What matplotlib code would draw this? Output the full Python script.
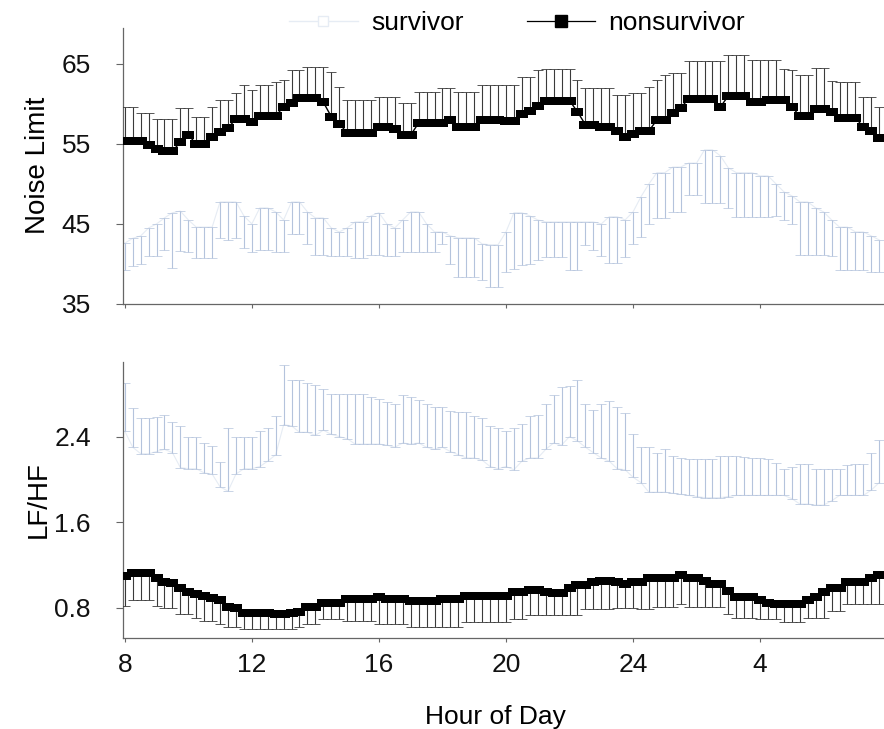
import numpy as np
import matplotlib
matplotlib.use("Agg")
import matplotlib.pyplot as plt
from matplotlib.path import Path
from matplotlib import font_manager

# ---- data: 15-minute means from 08:00 through 07:45 next day ----
hour = 8 + 0.25 * np.arange(96)

# Noise Limit, nonsurvivors (mean and standard error)
nl_nonsurv = [55.4, 55.4, 55.4, 54.9, 54.4, 54.1, 54.1, 55.2, 56.1, 55.0,
              55.0, 55.9, 56.5, 57.0, 58.1, 58.1, 57.7, 58.5, 58.5, 58.5,
              59.6, 60.1, 60.75, 60.75, 60.75, 60.2, 58.4, 57.5, 56.4, 56.4,
              56.4, 56.4, 57.1, 57.1, 56.9, 56.1, 56.1, 57.6, 57.6, 57.6,
              57.6, 58.0, 57.1, 57.1, 57.1, 58.0, 58.0, 58.0, 57.9, 57.9,
              58.75, 59.1, 59.75, 60.4, 60.4, 60.4, 60.4, 59.0, 57.4, 57.4,
              57.1, 57.1, 56.6, 55.9, 56.25, 56.6, 56.6, 58.0, 58.0, 58.9,
              59.5, 60.6, 60.6, 60.6, 60.6, 59.6, 61.0, 61.0, 61.0, 60.2,
              60.2, 60.5, 60.5, 60.5, 59.6, 58.5, 58.5, 59.4, 59.4, 59.0,
              58.25, 58.25, 58.25, 57.1, 56.6, 55.75]
nl_nonsurv_se = [4.2, 4.2, 3.5, 4.0, 3.7, 4.0, 4.0, 4.3, 3.4, 3.4,
                 3.4, 3.7, 4.0, 3.5, 3.3, 4.3, 4.0, 3.9, 3.9, 4.2,
                 3.4, 4.1, 3.5, 3.8, 3.8, 4.4, 5.6, 4.6, 4.1, 4.1,
                 4.1, 4.1, 3.8, 3.8, 4.0, 4.0, 4.0, 3.9, 3.9, 3.9,
                 4.4, 4.0, 4.4, 4.4, 4.4, 4.4, 4.4, 4.4, 4.5, 4.5,
                 4.6, 4.3, 4.5, 3.9, 3.9, 3.9, 3.9, 4.0, 4.6, 4.6,
                 4.9, 4.9, 4.5, 5.2, 5.1, 4.8, 5.5, 5.0, 5.6, 5.0,
                 4.4, 4.8, 4.8, 4.8, 4.8, 5.8, 5.1, 5.1, 5.1, 5.3,
                 5.3, 5.0, 5.0, 3.8, 4.6, 5.1, 5.1, 5.1, 5.1, 3.8,
                 4.5, 4.5, 4.5, 3.8, 4.3, 3.9]

# Noise Limit, survivors
nl_surv = [42.6, 43.2, 43.5, 44.5, 45.0, 45.75, 46.4, 46.6, 45.5, 44.6,
           44.6, 44.6, 47.75, 47.75, 47.75, 46.0, 45.0, 47.0, 47.0, 46.5,
           45.5, 47.75, 47.75, 46.5, 45.75, 45.75, 44.5, 44.0, 44.5, 45.25,
           45.25, 46.0, 46.4, 45.0, 44.5, 45.5, 46.5, 46.5, 45.0, 44.0,
           44.0, 43.5, 43.25, 43.25, 43.25, 42.5, 42.4, 42.4, 44.0, 46.4,
           46.4, 46.0, 45.5, 45.25, 45.25, 45.25, 45.25, 45.25, 45.25, 45.25,
           45.0, 45.9, 45.9, 45.5, 46.5, 48.4, 50.0, 51.4, 51.4, 52.1,
           52.1, 52.6, 52.6, 54.25, 54.25, 53.5, 52.0, 51.4, 51.4, 51.4,
           51.0, 51.0, 50.0, 49.0, 48.5, 47.75, 47.75, 47.0, 46.5, 45.5,
           44.6, 44.6, 44.0, 44.0, 43.5, 43.0]
nl_surv_se = [3.4, 3.5, 3.5, 3.5, 4.0, 4.0, 6.9, 5.0, 4.0, 3.9,
              3.9, 3.9, 4.5, 4.75, 4.5, 4.0, 3.5, 5.25, 5.25, 5.0,
              4.0, 4.0, 4.0, 4.0, 4.65, 4.65, 3.5, 3.0, 3.5, 4.5,
              4.5, 4.9, 5.3, 4.0, 3.5, 4.0, 5.0, 5.0, 3.5, 2.5,
              1.5, 3.5, 4.85, 4.85, 4.85, 4.5, 5.3, 5.3, 5.0, 7.0,
              6.5, 6.0, 5.0, 4.35, 4.35, 4.35, 6.0, 6.0, 2.85, 3.5,
              4.0, 5.8, 5.8, 4.6, 4.0, 5.0, 5.0, 5.65, 5.65, 5.6,
              5.6, 4.0, 4.0, 6.65, 6.65, 5.9, 5.0, 5.5, 5.5, 5.5,
              5.1, 5.1, 4.0, 3.5, 3.5, 6.65, 6.65, 5.9, 5.4, 4.5,
              5.35, 5.35, 4.75, 4.75, 4.5, 4.0]

# LF/HF, nonsurvivors
lfhf_nonsurv = [1.10, 1.13, 1.13, 1.13, 1.08, 1.04, 1.03, 0.99, 0.95, 0.93,
                0.91, 0.89, 0.87, 0.81, 0.80, 0.75, 0.75, 0.75, 0.75, 0.74,
                0.74, 0.755, 0.76, 0.81, 0.81, 0.85, 0.85, 0.85, 0.88, 0.88,
                0.88, 0.88, 0.905, 0.88, 0.88, 0.88, 0.86, 0.86, 0.86, 0.86,
                0.88, 0.88, 0.88, 0.91, 0.91, 0.91, 0.91, 0.91, 0.91, 0.945,
                0.945, 0.97, 0.97, 0.95, 0.94, 0.94, 0.99, 1.01, 1.01, 1.04,
                1.055, 1.055, 1.045, 1.02, 1.045, 1.045, 1.08, 1.08, 1.08, 1.08,
                1.11, 1.08, 1.08, 1.05, 1.02, 1.02, 0.96, 0.90, 0.90, 0.90,
                0.87, 0.85, 0.84, 0.84, 0.84, 0.84, 0.87, 0.90, 0.945, 0.99,
                0.99, 1.04, 1.04, 1.04, 1.08, 1.11]
lfhf_nonsurv_se = [0.28, 0.26, 0.26, 0.26, 0.26, 0.24, 0.23, 0.245, 0.205, 0.22,
                   0.23, 0.21, 0.22, 0.19, 0.18, 0.15, 0.15, 0.15, 0.15, 0.14,
                   0.14, 0.155, 0.14, 0.16, 0.16, 0.15, 0.15, 0.15, 0.20, 0.20,
                   0.20, 0.20, 0.255, 0.23, 0.23, 0.23, 0.24, 0.24, 0.24, 0.24,
                   0.26, 0.26, 0.26, 0.24, 0.24, 0.24, 0.24, 0.24, 0.24, 0.25,
                   0.25, 0.24, 0.24, 0.22, 0.21, 0.21, 0.26, 0.28, 0.22, 0.25,
                   0.265, 0.265, 0.245, 0.22, 0.245, 0.255, 0.29, 0.27, 0.27, 0.27,
                   0.27, 0.27, 0.27, 0.24, 0.21, 0.21, 0.215, 0.19, 0.19, 0.19,
                   0.17, 0.15, 0.14, 0.175, 0.175, 0.175, 0.16, 0.19, 0.235, 0.22,
                   0.22, 0.20, 0.20, 0.20, 0.24, 0.27]

# LF/HF, survivors
lfhf_surv = [2.45, 2.30, 2.24, 2.24, 2.26, 2.28, 2.25, 2.11, 2.10, 2.10,
             2.06, 2.05, 1.93, 1.89, 2.05, 2.10, 2.10, 2.12, 2.17, 2.23,
             2.51, 2.50, 2.44, 2.44, 2.41, 2.46, 2.42, 2.40, 2.38, 2.33,
             2.33, 2.33, 2.33, 2.32, 2.30, 2.34, 2.33, 2.34, 2.30, 2.28,
             2.30, 2.26, 2.23, 2.20, 2.20, 2.18, 2.12, 2.10, 2.12, 2.09,
             2.17, 2.20, 2.20, 2.28, 2.34, 2.32, 2.40, 2.36, 2.30, 2.25,
             2.20, 2.17, 2.10, 2.09, 2.02, 1.97, 1.88, 1.88, 1.88, 1.87,
             1.86, 1.85, 1.84, 1.83, 1.83, 1.83, 1.84, 1.85, 1.85, 1.85,
             1.85, 1.85, 1.85, 1.85, 1.82, 1.77, 1.77, 1.76, 1.76, 1.80,
             1.85, 1.85, 1.85, 1.85, 1.90, 1.97]
lfhf_surv_se = [0.45, 0.37, 0.33, 0.33, 0.32, 0.32, 0.29, 0.39, 0.30, 0.30,
                0.28, 0.26, 0.23, 0.59, 0.35, 0.30, 0.30, 0.33, 0.31, 0.36,
                0.56, 0.43, 0.49, 0.46, 0.47, 0.38, 0.38, 0.40, 0.42, 0.47,
                0.47, 0.44, 0.42, 0.40, 0.40, 0.45, 0.44, 0.40, 0.40, 0.40,
                0.38, 0.38, 0.40, 0.43, 0.39, 0.39, 0.38, 0.38, 0.33, 0.39,
                0.35, 0.39, 0.40, 0.42, 0.45, 0.54, 0.47, 0.57, 0.40, 0.40,
                0.50, 0.56, 0.58, 0.53, 0.40, 0.33, 0.42, 0.37, 0.40, 0.35,
                0.34, 0.34, 0.35, 0.36, 0.36, 0.39, 0.38, 0.37, 0.36, 0.35,
                0.35, 0.34, 0.30, 0.25, 0.30, 0.37, 0.37, 0.34, 0.34, 0.30,
                0.25, 0.28, 0.29, 0.29, 0.35, 0.40]

xtick_pos = [8, 12, 16, 20, 24, 28]
xtick_labels = ["8", "12", "16", "20", "24", "4"]
nl_ticks = [35, 45, 55, 65]
lfhf_ticks = [0.8, 1.6, 2.4]

# ---- styling ----
installed = {f.name for f in font_manager.fontManager.ttflist}
regular = "Liberation Sans" if "Liberation Sans" in installed else "DejaVu Sans"
plt.rcParams["font.family"] = [regular, "DejaVu Sans"]

SURV_BAR = "#b4c3dc"
SURV_LINE = "#e6ecf4"
NS_BAR = "#3a3a3a"
AXIS_COLOR = "#666666"

# wide flat block used as the nonsurvivor marker
block = Path([(-1, -0.68), (1, -0.68), (1, 0.68), (-1, 0.68), (-1, -0.68)],
             [Path.MOVETO, Path.LINETO, Path.LINETO, Path.LINETO, Path.CLOSEPOLY])

fig = plt.figure(figsize=(8.84, 7.29), dpi=100)
ax_top = fig.add_axes([0.139, 0.583, 0.861, 0.379])
ax_bot = fig.add_axes([0.139, 0.125, 0.861, 0.379])

zeros = np.zeros(len(hour))


def draw_group(ax, y, se, upward, survivor):
    lower = zeros if upward else np.asarray(se)
    upper = np.asarray(se) if upward else zeros
    if survivor:
        ax.errorbar(hour, y, yerr=[lower, upper], fmt="none", ecolor=SURV_BAR,
                    elinewidth=0.8, capsize=3.5, capthick=0.5, zorder=2)
        ax.plot(hour, y, color=SURV_LINE, lw=0.8, zorder=1)
    else:
        ax.errorbar(hour, y, yerr=[lower, upper], fmt="none", ecolor=NS_BAR,
                    elinewidth=0.8, capsize=3.5, capthick=0.6, zorder=3)
        ax.plot(hour, y, color="black", lw=1.0, marker=block, markersize=8.2,
                markeredgewidth=0, zorder=4)


draw_group(ax_top, nl_surv, nl_surv_se, upward=False, survivor=True)
draw_group(ax_top, nl_nonsurv, nl_nonsurv_se, upward=True, survivor=False)
draw_group(ax_bot, lfhf_surv, lfhf_surv_se, upward=True, survivor=True)
draw_group(ax_bot, lfhf_nonsurv, lfhf_nonsurv_se, upward=False, survivor=False)

for ax in (ax_top, ax_bot):
    ax.set_xlim(7.94, 31.9)
    ax.set_xticks(xtick_pos)
    for side in ("top", "right"):
        ax.spines[side].set_visible(False)
    for side in ("left", "bottom"):
        ax.spines[side].set_color(AXIS_COLOR)
        ax.spines[side].set_linewidth(0.9)
    ax.tick_params(axis="both", colors=AXIS_COLOR, width=0.8, direction="out")
    ax.tick_params(axis="y", length=5, labelsize=19, labelcolor="#111111", pad=18)
    ax.tick_params(axis="x", length=3, labelsize=19, labelcolor="#111111", pad=8)

ax_top.set_ylim(35, 69.5)
ax_top.set_yticks(nl_ticks)
ax_top.set_xticklabels([])
ax_top.set_ylabel("Noise Limit", fontsize=20)

ax_bot.set_ylim(0.52, 3.1)
ax_bot.set_yticks(lfhf_ticks)
ax_bot.set_yticklabels([f"{t:.1f}" for t in lfhf_ticks])
ax_bot.set_xticklabels(xtick_labels)
ax_bot.set_ylabel("LF/HF", fontsize=20)
ax_bot.set_xlabel("Hour of Day", fontsize=19)
ax_bot.xaxis.set_label_coords(0.49, -0.243)

for ax in (ax_top, ax_bot):
    ax.yaxis.set_label_coords(-0.094, 0.5)

# legend
h_surv, = ax_top.plot([], [], color=SURV_LINE, lw=1.0, marker="s", markersize=7,
                      markerfacecolor="white", markeredgecolor=SURV_LINE)
h_ns, = ax_top.plot([], [], color="black", lw=0.9, marker="s", markersize=8)
fig.legend([h_surv, h_ns], ["survivor", "nonsurvivor"], loc="center",
           bbox_to_anchor=(0.585, 0.968), ncol=2, frameon=False, fontsize=19,
           handlelength=2.6, columnspacing=2.4, handletextpad=0.5)

fig.savefig("out.png", dpi=100)
